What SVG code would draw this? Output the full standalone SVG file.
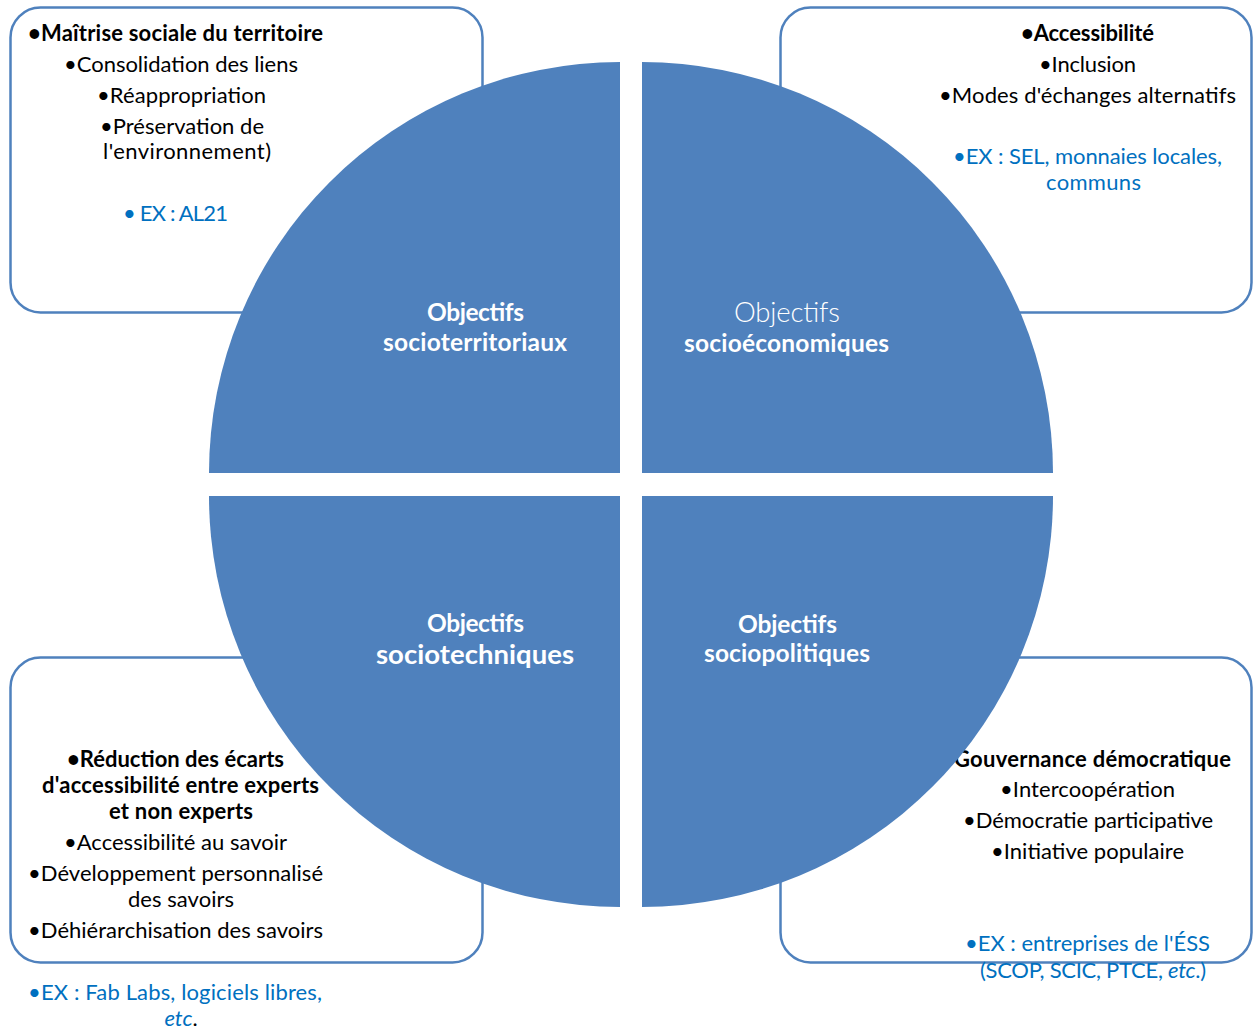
<svg xmlns="http://www.w3.org/2000/svg" width="1253" height="1031" viewBox="0 0 1253 1031">
<style>
.box{fill:#fff;stroke:#4f81bd;stroke-width:2.5}
.q{fill:#4f81bd}
text{font-family:Lato,"Liberation Sans",sans-serif;text-anchor:middle}
.t{font-size:22px;fill:#000}
.b{font-weight:bold}
.ex{font-size:22px;fill:#0070c0}
.lbl{fill:#fff;font-weight:bold;font-size:24.5px}
</style>
<g id="box-territoriaux">
<rect class="box" x="10.5" y="7.5" width="472" height="305" rx="30"/>
<text class="t b" x="175.5" y="41" textLength="295">•Maîtrise sociale du territoire</text>
<text class="t" x="181" y="72" textLength="234">•Consolidation des liens</text>
<text class="t" x="181.5" y="103" textLength="169">•Réappropriation</text>
<text class="t" x="182" y="134" textLength="164">•Préservation de</text>
<text class="t" x="187" y="159" textLength="168">l'environnement)</text>
<text class="ex" x="175.5" y="221" textLength="105">• EX : AL21</text>
</g>
<g id="box-economiques">
<rect class="box" x="780.5" y="7.5" width="471" height="305" rx="30"/>
<text class="t b" x="1087.5" y="41" textLength="133">•Accessibilité</text>
<text class="t" x="1087.5" y="72" textLength="97">•Inclusion</text>
<text class="t" x="1087.5" y="103" textLength="297">•Modes d'échanges alternatifs</text>
<text class="ex" x="1087.5" y="164" textLength="269">•EX : SEL, monnaies locales,</text>
<text class="ex" x="1093.5" y="190" textLength="95">communs</text>
</g>
<g id="box-techniques">
<rect class="box" x="10.5" y="657.5" width="472" height="305" rx="30"/>
<text class="t b" x="175.5" y="767" textLength="217">•Réduction des écarts</text>
<text class="t b" x="180.5" y="793" textLength="277">d'accessibilité entre experts</text>
<text class="t b" x="181" y="819" textLength="144">et non experts</text>
<text class="t" x="175.5" y="850" textLength="223">•Accessibilité au savoir</text>
<text class="t" x="175.5" y="881" textLength="295">•Développement personnalisé</text>
<text class="t" x="181" y="907" textLength="106">des savoirs</text>
<text class="t" x="175.5" y="938" textLength="295">•Déhiérarchisation des savoirs</text>
<text class="ex" x="175" y="1000" textLength="294">•EX :  Fab Labs, logiciels libres,</text>
<text class="ex" x="181" y="1026"><tspan font-style="italic">etc</tspan><tspan fill="#000">.</tspan></text>
</g>
<g id="box-politiques">
<rect class="box" x="780.5" y="657.5" width="471" height="305" rx="30"/>
<text class="t b" x="1086" y="767" textLength="290">•Gouvernance démocratique</text>
<text class="t" x="1087.5" y="797" textLength="175">•Intercoopération</text>
<text class="t" x="1088" y="828" textLength="250">•Démocratie participative</text>
<text class="t" x="1087.5" y="859" textLength="193">•Initiative populaire</text>
<text class="ex" x="1087.5" y="951" textLength="245">•EX : entreprises de l'ÉSS</text>
<text class="ex" x="1093" y="978" textLength="226">(SCOP, SCIC, PTCE, <tspan font-style="italic">etc</tspan>.)</text>
</g>
<g id="quadrant-territoriaux">
<path class="q" d="M620,473 L209,473 A411,411 0 0 1 620,62 Z"/>
<text class="lbl" x="475.5" y="321" textLength="97">Objectifs</text>
<text class="lbl" x="475" y="351" textLength="184">socioterritoriaux</text>
</g>
<g id="quadrant-economiques">
<path class="q" d="M642,473 L642,62 A411,411 0 0 1 1053,473 Z"/>
<text class="lbl" x="787" y="322" textLength="106" style="font-weight:300;font-size:27.5px">Objectifs</text>
<text class="lbl" x="786.5" y="352" textLength="205">socioéconomiques</text>
</g>
<g id="quadrant-techniques">
<path class="q" d="M620,496 L620,907 A411,411 0 0 1 209,496 Z"/>
<text class="lbl" x="475.5" y="632" textLength="97">Objectifs</text>
<text class="lbl" x="475" y="664" textLength="198" style="font-size:27.5px">sociotechniques</text>
</g>
<g id="quadrant-politiques">
<path class="q" d="M642,496 L1053,496 A411,411 0 0 1 642,907 Z"/>
<text class="lbl" x="787.5" y="633" textLength="99">Objectifs</text>
<text class="lbl" x="787" y="662" textLength="166">sociopolitiques</text>
</g>
<g id="connectors"/>
</svg>
